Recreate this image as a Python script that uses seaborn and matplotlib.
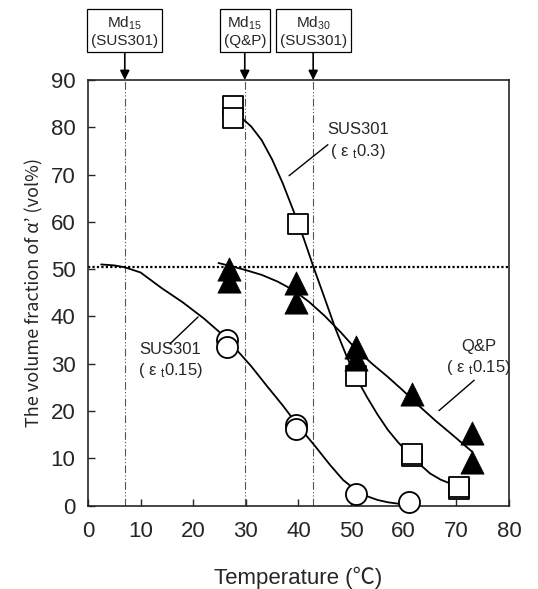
import numpy as np
import pandas as pd
import matplotlib
matplotlib.use("Agg")
import matplotlib.pyplot as plt
import seaborn as sns

# Measured points (temperature in C, volume fraction of alpha' in vol%)
sq_temp = [27.5, 27.5, 40.0, 51.0, 61.5, 61.5, 70.5, 70.5]
sq_frac = [84.5, 82.0, 59.5, 27.5, 10.5, 11.0, 3.5, 4.0]

tri_temp = [26.8, 26.8, 39.5, 39.5, 51.0, 51.0, 61.5, 73.0, 73.0]
tri_frac = [50.0, 47.5, 47.0, 43.0, 33.5, 31.0, 23.7, 15.3, 9.3]

circ_temp = [26.5, 26.5, 39.5, 39.5, 51.0, 61.0]
circ_frac = [35.0, 33.5, 17.0, 16.3, 2.5, 0.8]

# Fitted curves
fit03_temp = [29.3, 31, 33, 35, 37, 39, 41, 43, 45, 47, 49, 51, 53, 55, 57, 59, 61, 63, 65, 67, 69, 70.3]
fit03_frac = [81.9, 80.2, 77.3, 73.2, 68.2, 62.5, 56.5, 50.0, 43.8, 37.5, 32.0, 27.0, 23.0, 19.3, 16.0,
              13.3, 11.0, 8.8, 6.8, 5.5, 4.6, 4.2]

fitqp_temp = [24.8, 27, 30, 33, 36, 39, 42, 45, 48, 51, 54, 57, 60, 63, 66, 69, 73]
fitqp_frac = [51.3, 50.7, 49.8, 48.8, 47.4, 45.6, 43.1, 40.1, 36.7, 33.0, 30.0, 27.2, 24.2, 21.0, 18.0, 15.2, 11.4]

fit15_temp = [2.5, 5, 7, 10, 14, 18, 22, 25.5, 28.6, 31, 34, 37, 40, 43, 46, 48.5, 51, 53, 55, 57, 59, 61]
fit15_frac = [51.0, 50.8, 50.4, 49.3, 46.0, 43.0, 39.6, 36.2, 32.5, 29.5, 25.3, 21.2, 16.8, 12.8, 8.6, 5.4,
              3.2, 2.0, 1.2, 0.7, 0.4, 0.3]

md_temp = [7.0, 29.8, 42.8]
md_labels = ["Md$_{15}$\n(SUS301)", "Md$_{15}$\n(Q&P)", "Md$_{30}$\n(SUS301)"]
ref_level = 50.5

sns.set_style("ticks")
plt.rcParams['font.family'] = ['Liberation Sans', 'Noto Sans CJK JP', 'DejaVu Sans']
plt.rcParams['mathtext.fontset'] = 'custom'
plt.rcParams['mathtext.rm'] = 'Liberation Sans'
plt.rcParams['mathtext.it'] = 'Liberation Sans'

fig = plt.figure(figsize=(5.38, 5.89), dpi=100)
ax = fig.add_axes([0.1635, 0.1416, 0.7825, 0.7225])

# reference lines
for t in md_temp:
    ax.axvline(t, color="#555555", lw=0.8, dashes=(7, 2, 1, 2, 1, 2), zorder=1)
ax.axhline(ref_level, color="black", lw=1.6, dashes=(1, 1), zorder=1)

# fitted curves
for xs, ys in [(fit03_temp, fit03_frac), (fitqp_temp, fitqp_frac), (fit15_temp, fit15_frac)]:
    df = pd.DataFrame({"t": xs, "f": ys})
    sns.lineplot(data=df, x="t", y="f", sort=False, estimator=None, color="black", lw=1.3, ax=ax, zorder=2)

sns.scatterplot(x=sq_temp, y=sq_frac, marker="s", s=200, facecolor="white", edgecolor="black",
                linewidth=1.3, ax=ax, zorder=3, clip_on=False)
sns.scatterplot(x=circ_temp, y=circ_frac, marker="o", s=230, facecolor="white", edgecolor="black",
                linewidth=1.3, ax=ax, zorder=3, clip_on=False)
sns.scatterplot(x=tri_temp, y=tri_frac, marker="^", s=280, color="black", edgecolor="black",
                linewidth=0.5, ax=ax, zorder=4, clip_on=False)

# curve labels with leader lines
ax.text(51.3, 77.0, "SUS301\n( ε $_{\\rm t}$0.3)", ha="center", va="center", fontsize=12, linespacing=1.3)
ax.annotate("", xy=(37.8, 69.4), xytext=(46.0, 76.7), arrowprops=dict(arrowstyle="-", lw=1.0, color="black"))
ax.text(15.7, 30.5, "SUS301\n( ε $_{\\rm t}$0.15)", ha="center", va="center", fontsize=12, linespacing=1.3)
ax.annotate("", xy=(21.3, 40.3), xytext=(15.2, 33.8), arrowprops=dict(arrowstyle="-", lw=1.0, color="black"))
ax.text(74.2, 31.2, "Q&P\n( ε $_{\\rm t}$0.15)", ha="center", va="center", fontsize=12, linespacing=1.3)
ax.annotate("", xy=(66.3, 19.7), xytext=(73.8, 26.9), arrowprops=dict(arrowstyle="-", lw=1.0, color="black"))

# Md boxes above the plot
for t, lab in zip(md_temp, md_labels):
    ax.annotate(lab, xy=(t, 90), xytext=(t, 100.3), ha="center", va="center", fontsize=11,
                linespacing=1.2, annotation_clip=False,
                bbox=dict(boxstyle="square,pad=0.25", fc="white", ec="black", lw=0.9),
                arrowprops=dict(arrowstyle="-|>", color="black", lw=1.2, mutation_scale=14,
                                shrinkA=0, shrinkB=0))

ax.set_xlim(0, 80)
ax.set_ylim(0, 90)
ax.set_xticks(range(0, 81, 10))
ax.set_yticks(range(0, 91, 10))
ax.tick_params(axis="both", direction="in", length=5, width=1.0, labelsize=16)
ax.tick_params(axis="x", pad=11)
ax.tick_params(axis="y", pad=9)
for sp in ax.spines.values():
    sp.set_visible(True)
    sp.set_linewidth(1.2)

ax.set_xlabel("Temperature (℃)", fontsize=16, labelpad=18)
ax.set_ylabel("The volume fraction of α’ (vol%)", fontsize=13, labelpad=5,
              fontfamily=["Noto Sans CJK JP", "DejaVu Sans"])

fig.savefig("out.png", dpi=100)
